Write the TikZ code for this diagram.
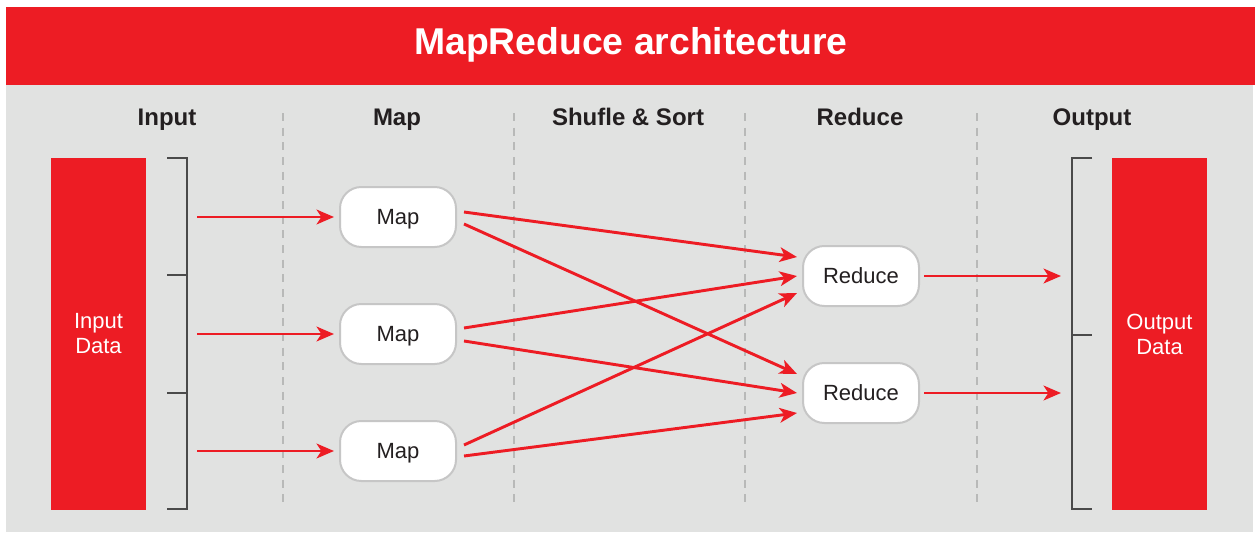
\documentclass[tikz,border=0pt]{standalone}
\usepackage{fontspec}
\setmainfont{Liberation Sans}
\usetikzlibrary{arrows.meta,calc}
\definecolor{mrred}{HTML}{ED1C24}
\definecolor{panelgray}{HTML}{E1E2E1}
\definecolor{hdrtext}{HTML}{231F20}
\definecolor{nodeborder}{HTML}{C6C6C6}
\definecolor{sepgray}{HTML}{B8B9B8}
\definecolor{brk}{HTML}{4A4A4A}
\begin{document}
\begin{tikzpicture}[x=0.75pt,y=-0.75pt,
  titletext/.style={text=white,font=\fontsize{28}{34}\selectfont\bfseries,inner sep=0pt,anchor=base},
  header/.style={text=hdrtext,font=\fontsize{18}{22}\selectfont\bfseries,inner sep=0pt,anchor=base},
  datablock/.style={fill=mrred,text=white,minimum width=71.25pt,minimum height=264pt,
    inner sep=0pt,align=center,font=\fontsize{16.5}{18.75}\selectfont},
  procbox/.style={fill=white,draw=nodeborder,line width=1.5pt,rounded corners=16pt,
    minimum width=87pt,minimum height=45pt,inner sep=0pt,text=hdrtext,
    text height=11.5pt,text depth=0pt,
    font=\fontsize{16.5}{20}\selectfont},
  sep/.style={draw=sepgray,line width=0.8pt,dash pattern=on 6pt off 5pt},
  bracketline/.style={draw=brk,line width=1.1pt},
  flow/.style={draw=mrred,line width=2.2pt,-{Stealth[length=13pt,width=11pt,inset=3.5pt]}}
]
\useasboundingbox (0,0) rectangle (1256,535);
\fill[white] (0,0) rectangle (1256,535);
\fill[panelgray] (6,85) rectangle (1253,532);
\fill[mrred] (6,7) rectangle (1255,85);
\node[titletext] (title) at (631,55) {MapReduce architecture};

% column headers
\node[header] (hin) at (167,125) {Input};
\node[header] (hmap) at (397,125) {Map};
\node[header] (hss) at (628,125) {Shufle \& Sort};
\node[header] (hred) at (860,125) {Reduce};
\node[header] (hout) at (1092,125) {Output};

% separators
\foreach \sx in {283,514,745,977}
  \draw[sep] (\sx,113) -- (\sx,508);

% data blocks
\node[datablock] (indata) at (98.5,334) {Input\\Data};
\node[datablock] (outdata) at (1159.5,334) {Output\\Data};

% brackets
\draw[bracketline] (167,158) -- (187,158) -- (187,509) -- (167,509);
\draw[bracketline] (167,275) -- (187,275);
\draw[bracketline] (167,393) -- (187,393);
\draw[bracketline] (1092,158) -- (1072,158) -- (1072,509) -- (1092,509);
\draw[bracketline] (1072,335) -- (1092,335);

% map and reduce nodes
\node[procbox] (m1) at (398,217) {Map};
\node[procbox] (m2) at (398,334) {Map};
\node[procbox] (m3) at (398,451) {Map};
\node[procbox] (r1) at (861,276) {Reduce};
\node[procbox] (r2) at (861,393) {Reduce};

% input arrows
\coordinate (in1) at (197,217);
\coordinate (in2) at (197,334);
\coordinate (in3) at (197,451);
\draw[flow] (in1) -- ($(m1.west)+(-5,0)$);
\draw[flow] (in2) -- ($(m2.west)+(-5,0)$);
\draw[flow] (in3) -- ($(m3.west)+(-5,0)$);

% shuffle arrows
\draw[flow] ($(m1.east)+(7,-5)$) -- ($(r1.west)+(-5,-19)$);
\draw[flow] ($(m1.east)+(7,7)$) -- ($(r2.west)+(-5,-19)$);
\draw[flow] ($(m2.east)+(7,-6)$) -- ($(r1.west)+(-5,0)$);
\draw[flow] ($(m2.east)+(7,7)$) -- ($(r2.west)+(-5,0)$);
\draw[flow] ($(m3.east)+(7,-6)$) -- ($(r1.west)+(-5,17)$);
\draw[flow] ($(m3.east)+(7,5)$) -- ($(r2.west)+(-5,20)$);

% output arrows
\coordinate (out1) at (1061,276);
\coordinate (out2) at (1061,393);
\draw[flow] ($(r1.east)+(4,0)$) -- (out1);
\draw[flow] ($(r2.east)+(4,0)$) -- (out2);
\end{tikzpicture}
\end{document}
